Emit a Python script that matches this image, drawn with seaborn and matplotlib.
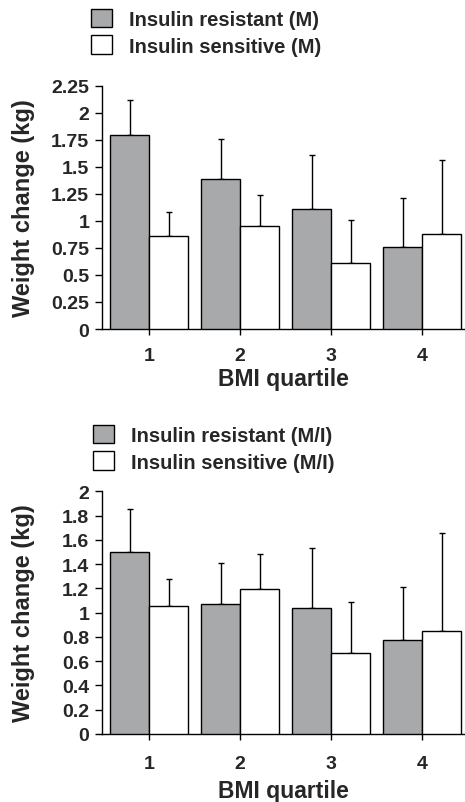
import pandas as pd
import seaborn as sns
import matplotlib.pyplot as plt

# data
quartiles = ['1', '2', '3', '4']

# top panel: M
resist_m = [1.79, 1.39, 1.11, 0.76]
resist_m_se = [0.33, 0.37, 0.50, 0.455]
sens_m = [0.86, 0.955, 0.61, 0.875]
sens_m_se = [0.22, 0.28, 0.40, 0.69]

# bottom panel: M/I
resist_mi = [1.50, 1.07, 1.04, 0.775]
resist_mi_se = [0.35, 0.34, 0.49, 0.435]
sens_mi = [1.055, 1.195, 0.67, 0.85]
sens_mi_se = [0.22, 0.29, 0.415, 0.805]

yticks_top = [0, 0.25, 0.5, 0.75, 1, 1.25, 1.5, 1.75, 2, 2.25]
yticks_bot = [0, 0.2, 0.4, 0.6, 0.8, 1, 1.2, 1.4, 1.6, 1.8, 2]

sns.set_style('ticks')
plt.rcParams['font.family'] = ['Liberation Sans', 'DejaVu Sans']
plt.rcParams['font.weight'] = 'bold'

GRAY = '#a7a9ac'


def panel(fig, rect, lab_r, lab_s, vr, vr_se, vs, vs_se, yticks, leg_xy,
          xpad=9, lpad=2):
    ax = fig.add_axes(rect)
    df = pd.DataFrame({
        'q': quartiles * 2,
        'val': vr + vs,
        'grp': [lab_r] * 4 + [lab_s] * 4,
    })
    sns.barplot(data=df, x='q', y='val', hue='grp', hue_order=[lab_r, lab_s],
                palette=[GRAY, 'white'], edgecolor='black', linewidth=1,
                width=0.857, gap=0, errorbar=None, ax=ax, zorder=3)
    # upward-only error bars from the bar tops
    for cont, se in zip(ax.containers, [vr_se, vs_se]):
        xs = [b.get_x() + b.get_width() / 2 for b in cont]
        hs = [b.get_height() for b in cont]
        ax.errorbar(xs, hs, yerr=[[0] * len(se), se], fmt='none', ecolor='black',
                    elinewidth=1, capsize=2.2, capthick=1, zorder=2)
    ax.set_xlim(-0.52, 3.47)
    ax.set_ylim(0, yticks[-1])
    ax.set_yticks(yticks)
    ax.set_yticklabels(['%g' % t for t in yticks])
    ax.tick_params(axis='y', direction='out', length=5, width=1, pad=4,
                   labelsize=14, color='black')
    ax.tick_params(axis='x', direction='out', length=4, width=1, pad=xpad,
                   labelsize=14, color='black')
    for s in ['top', 'right']:
        ax.spines[s].set_visible(False)
    for s in ['left', 'bottom']:
        ax.spines[s].set_color('black')
        ax.spines[s].set_linewidth(1)
    ax.set_xlabel('BMI quartile', fontsize=16.5, fontweight='bold', labelpad=lpad)
    ax.set_ylabel('Weight change (kg)', fontsize=17, fontweight='bold')
    ax.yaxis.set_label_coords(-0.183, 0.5)
    h, l = ax.get_legend_handles_labels()
    ax.get_legend().remove()
    fig.legend(h, l, loc='upper left', bbox_to_anchor=leg_xy,
               frameon=False, handlelength=1.05, handleheight=1.05,
               handletextpad=0.83, labelspacing=0.33, borderpad=0,
               borderaxespad=0, prop={'weight': 'bold', 'size': 14.5})
    return ax


fig = plt.figure(figsize=(4.65, 8.03), dpi=100)
panel(fig, [0.2187, 0.589, 0.7813, 0.303],
      'Insulin resistant (M)', 'Insulin sensitive (M)',
      resist_m, resist_m_se, sens_m, sens_m_se, yticks_top, (0.195, 0.988))
panel(fig, [0.2187, 0.0847, 0.7813, 0.3023],
      'Insulin resistant (M/I)', 'Insulin sensitive (M/I)',
      resist_mi, resist_mi_se, sens_mi, sens_mi_se, yticks_bot, (0.2, 0.47),
      xpad=11, lpad=5)

fig.savefig('out.png', dpi=100)
